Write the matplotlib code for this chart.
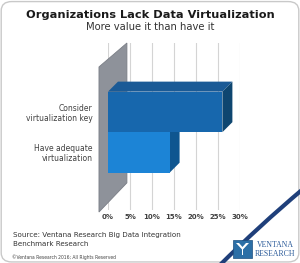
import matplotlib
matplotlib.use("Agg")
import matplotlib.pyplot as plt
from matplotlib.patches import Polygon, FancyBboxPatch, Rectangle
from matplotlib.path import Path
from matplotlib.patches import PathPatch

# data
categories = ["Have adequate\nvirtualization", "Consider\nvirtualization key"]
values = [14, 26]
ticks = [0, 5, 10, 15, 20, 25, 30]
tick_labels = ["0%", "5%", "10%", "15%", "20%", "25%", "30%"]

front_cols = ["#1c84d6", "#1767ad"]
top_cols = ["#1a6fb5", "#1a5a96"]
side_cols = ["#0f5690", "#0e4670"]

W, H = 300, 263
fig = plt.figure(figsize=(W / 100, H / 100), dpi=100)
fig.patch.set_facecolor("white")

# rounded frame
fig.patches.append(FancyBboxPatch((0.004, 0.004), 0.992, 0.99,
                                  boxstyle="round,pad=0,rounding_size=0.035",
                                  transform=fig.transFigure, fc="white",
                                  ec="#c9c9c9", lw=1.0, zorder=-10))

# chart axes: x 0..30 -> px 108..240, y px 43..210
ax = fig.add_axes([108 / W, 1 - 210 / H, 132 / W, 167 / H])
ax.set_xlim(0, 30)
ax.set_ylim(-1.42, 2.70)
ax.patch.set_alpha(0)
for s in ax.spines.values():
    s.set_visible(False)

for t in ticks:
    ax.axvline(t, color="#d4d4d4", lw=0.8, zorder=0)

# side wall
wall = Polygon([(-2.05, -1.47), (-2.05, 2.11), (4.3, 2.70), (4.3, -0.75)],
               closed=True, fc="#8e929a", ec="#7a7e86", lw=0.6,
               clip_on=False, zorder=1)
ax.add_patch(wall)

dx, dy = 2.27, 0.247
ypos = list(range(len(values)))
for i, v in enumerate(values):
    y0, y1 = ypos[i] - 0.5, ypos[i] + 0.5
    z = 2 + i * 3
    top = Polygon([(0, y1), (dx, y1 + dy), (v + dx, y1 + dy), (v, y1)],
                  fc=top_cols[i], ec="none", zorder=z, clip_on=False)
    side = Polygon([(v, y0), (v, y1), (v + dx, y1 + dy), (v + dx, y0 + dy)],
                   fc=side_cols[i], ec="none", zorder=z, clip_on=False)
    ax.add_patch(top)
    ax.add_patch(side)
    ax.barh(ypos[i], v, height=1.0, color=front_cols[i], zorder=z + 1)

ax.set_xticks(ticks)
ax.set_xticklabels(tick_labels, fontsize=5, color="#404040", fontweight="bold")
ax.tick_params(axis="x", length=0, pad=3)
ax.set_yticks(ypos)
ax.set_yticklabels(categories, fontsize=5.5, color="#404040", ha="right",
                   linespacing=1.15)
ax.tick_params(axis="y", length=0, pad=11.3)

# titles and notes
fig.text(0.5, 1 - 15 / H, "Organizations Lack Data Virtualization",
         ha="center", va="center", fontsize=8.2, fontweight="bold",
         color="#1a1a1a")
fig.text(0.5, 1 - 27.5 / H, "More value it than have it", ha="center",
         va="center", fontsize=7.2, color="#333333")
fig.text(13 / W, 1 - 239.5 / H,
         "Source: Ventana Research Big Data Integration\nBenchmark Research",
         ha="left", va="center", fontsize=5.15, color="#333333",
         linespacing=1.55)
fig.text(12 / W, 1 - 257.3 / H, "\u00a9Ventana Research 2016; All Rights Reserved",
         ha="left", va="center", fontsize=3.25, color="#444444")

# logo overlay
ov = fig.add_axes([0, 0, 1, 1])
ov.set_xlim(0, W)
ov.set_ylim(H, 0)
ov.axis("off")
ov.patch.set_alpha(0)
band = Path([(303, 189), (259, 226), (219, 266)],
            [Path.MOVETO, Path.CURVE3, Path.CURVE3])
ov.add_patch(PathPatch(band, fc="none", ec="#1f3f7a", lw=3.0))
ov.add_patch(Rectangle((233, 240), 19, 18, fc="#2c6fa6", ec="#1d4f7f", lw=0.5))
ov.add_patch(Polygon([(236, 243), (242.5, 250), (249, 243), (246, 243),
                      (242.5, 247), (239, 243)], fc="white", ec="none"))
ov.add_patch(Rectangle((241.7, 248), 1.6, 7, fc="white", ec="none"))
ov.text(275, 245, "VENTANA", ha="center", va="center", fontsize=5.6,
        family="Liberation Serif", color="#2a5a99")
ov.text(275, 253.5, "RESEARCH", ha="center", va="center", fontsize=5.6,
        family="Liberation Serif", color="#2a5a99")

fig.savefig("out.png", dpi=100)
